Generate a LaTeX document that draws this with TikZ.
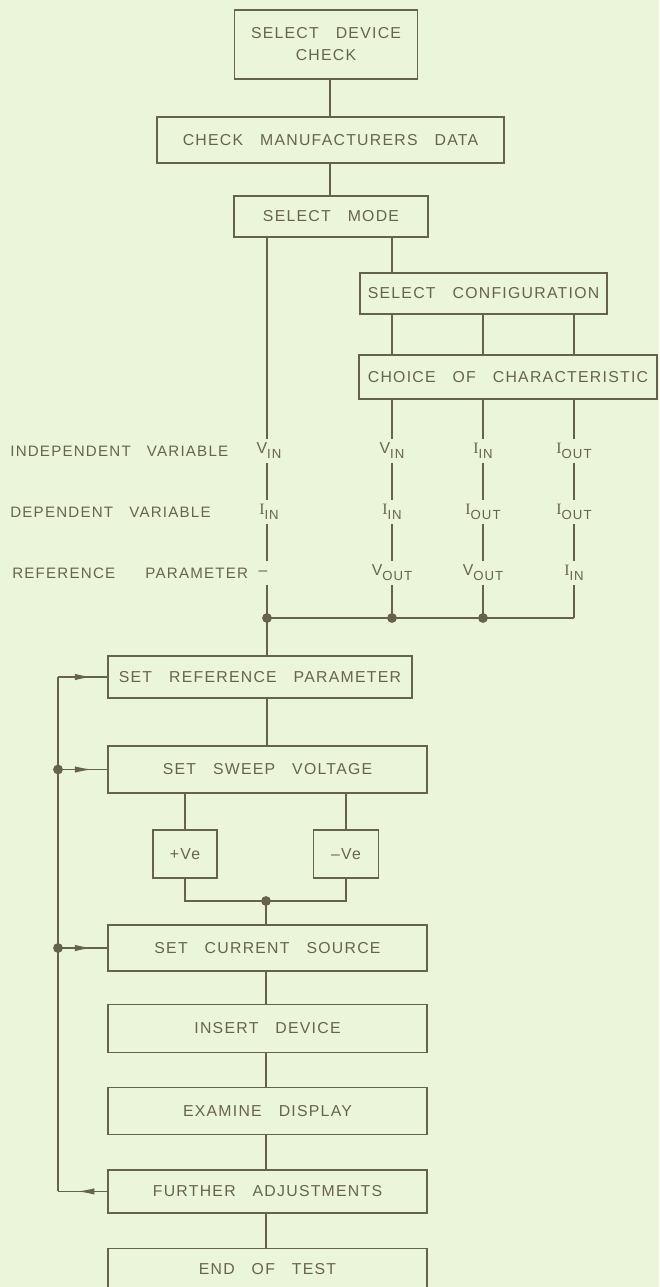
\documentclass[tikz,border=0pt]{standalone}
\usepackage{fontspec}
\setmainfont{Liberation Sans}[LetterSpace=8,WordSpace=3]
\newfontfamily\serifface{Liberation Serif}
\usepackage{tikz}
\usetikzlibrary{positioning,arrows.meta,decorations.markings}
\definecolor{plateGreen}{HTML}{EBF5DA}
\definecolor{inkBrown}{HTML}{67624C}
\definecolor{textBrown}{HTML}{68634F}
\newcommand{\capI}{{\serifface I}}
\newcommand{\lowsub}[1]{\raisebox{-0.6ex}{\fontsize{7.5}{8}\selectfont #1}}
\tikzset{
  block/.style={draw=inkBrown, line width=0.75pt, text=textBrown, inner sep=0pt, align=center, minimum width=6.38cm, minimum height=0.94cm},
  blockSmall/.style={block, minimum width=1.3cm, minimum height=0.96cm},
  varLabel/.style={text=textBrown, inner sep=0pt, minimum height=0.46cm, minimum width=0.5cm},
  rowLabel/.style={text=textBrown, inner sep=0pt, anchor=west, font=\fontsize{8.6}{10}\selectfont},
  wire/.style={draw=inkBrown, line width=0.9pt},
  flowRight/.style={wire, postaction={decorate}, decoration={markings, mark=at position 0.7 with {\arrow[inkBrown]{Latex[length=10pt,width=3.6pt]}}}},
  flowLeft/.style={wire, postaction={decorate}, decoration={markings, mark=at position 0.62 with {\arrow[inkBrown]{Latex[length=10pt,width=3.6pt]}}}}
}

\begin{document}
\begin{tikzpicture}[x=0.02cm, y=-0.02cm, font=\fontsize{9}{12.5}\selectfont]
  \useasboundingbox[fill=plateGreen] (0,0) rectangle (659,1287);
  % upper chain
  \node[block, minimum width=3.66cm, minimum height=1.38cm] (dev) at (326,44.5) {SELECT DEVICE\\CHECK};
  \node[block, minimum width=6.94cm, minimum height=0.92cm] (data) at (330.5,140) {CHECK MANUFACTURERS DATA};
  \node[block, minimum width=3.88cm, minimum height=0.82cm] (mode) at (331,216.5) {SELECT MODE};
  \node[block, minimum width=4.94cm, minimum height=0.82cm] (config) at (483.5,293.5) {SELECT CONFIGURATION};
  \node[block, minimum width=5.96cm, minimum height=0.88cm] (choice) at (508,377) {CHOICE OF CHARACTERISTIC};
  \coordinate (topx) at (330,0);
  \draw[wire] (dev.south -| topx) -- (data.north -| topx);
  \draw[wire] (data.south -| topx) -- (mode.north -| topx);

  % variable table
  \node[rowLabel] (lblInd) at (10,451) {INDEPENDENT VARIABLE};
  \node[rowLabel] (lblDep) at (10,512) {DEPENDENT VARIABLE};
  \node[rowLabel] (lblRef) at (12,573) {REFERENCE\hspace{8pt} PARAMETER};
  \node[varLabel] (vL1) at (269,451) {V\lowsub{IN}};
  \node[varLabel] (vL2) at (269,512) {\capI\lowsub{IN}};
  \node[varLabel] (vL3) at (263,573) {--};
  \node[varLabel] (v11) at (392,451) {V\lowsub{IN}};
  \node[varLabel] (v12) at (392,512) {\capI\lowsub{IN}};
  \node[varLabel] (v13) at (392,573) {V\lowsub{OUT}};
  \node[varLabel] (v21) at (483,451) {\capI\lowsub{IN}};
  \node[varLabel] (v22) at (483,512) {\capI\lowsub{OUT}};
  \node[varLabel] (v23) at (483,573) {V\lowsub{OUT}};
  \node[varLabel] (v31) at (574,451) {\capI\lowsub{OUT}};
  \node[varLabel] (v32) at (574,512) {\capI\lowsub{OUT}};
  \node[varLabel] (v33) at (574,573) {\capI\lowsub{IN}};
  \coordinate (busL) at (267,618);
  \coordinate (b1) at (392,618);
  \coordinate (b2) at (483,618);
  \coordinate (b3) at (574,618);

  \draw[wire] (mode.south -| v11) -- (config.north -| v11);
  \draw[wire] (mode.south -| busL) -- (vL1.north -| busL);
  \draw[wire] (vL1.south -| busL) -- (vL2.north -| busL);
  \draw[wire] (vL2.south -| busL) -- (vL3.north -| busL);
  \draw[wire] (vL3.south -| busL) -- (busL);
  \foreach \c in {1,2,3} {
    \draw[wire] (config.south -| v\c1) -- (choice.north -| v\c1);
    \draw[wire] (choice.south -| v\c1) -- (v\c1) -- (v\c2) -- (v\c3) -- (b\c);
  }
  \draw[wire] (busL) -- (b1) -- (b2) -- (b3);
  \foreach \p in {busL,b1,b2} \fill[inkBrown] (\p) circle (2.8pt);

  % lower chain
  \node[block, minimum width=6.08cm, minimum height=0.84cm] (ref) at (260,677) {SET REFERENCE PARAMETER};
  \node[block] (sweep) at (267.5,769.5) {SET SWEEP VOLTAGE};
  \node[blockSmall, minimum width=1.28cm] (plus) at (185,854) {+Ve};
  \node[blockSmall] (minus) at (346,854) {--Ve};
  \coordinate (join) at (266,901);
  \node[block, minimum height=0.92cm] (current) at (267.5,948) {SET CURRENT SOURCE};
  \node[block, minimum height=0.96cm, below=0.64cm of current] (insert) {INSERT DEVICE};
  \node[block, below=0.68cm of insert] (examine) {EXAMINE DISPLAY};
  \node[block, minimum height=0.86cm, below=0.68cm of examine] (further) {FURTHER ADJUSTMENTS};
  \node[block, minimum height=0.82cm, below=0.68cm of further] (endt) {END OF TEST};

  \draw[wire] (busL) -- (busL |- ref.north);
  \draw[wire] (ref.south -| busL) -- (sweep.north -| busL);
  \draw[wire] (sweep.south -| plus) -- (plus);
  \draw[wire] (sweep.south -| minus) -- (minus);
  \draw[wire] (plus) -- (plus |- join) -- (minus |- join) -- (minus);
  \fill[inkBrown] (join) circle (2.8pt);
  \draw[wire] (join) -- (join |- current.north);
  \draw[wire] (current.south -| join) -- (insert.north -| join);
  \draw[wire] (insert.south -| join) -- (examine.north -| join);
  \draw[wire] (examine.south -| join) -- (further.north -| join);
  \draw[wire] (further.south -| join) -- (endt.north -| join);

  % adjustment loop
  \coordinate (fbx) at (58,0);
  \draw[flowLeft] (further.west) -- (further.west -| fbx);
  \draw[wire] (further.west -| fbx) -- (ref.west -| fbx);
  \draw[flowRight] (ref.west -| fbx) -- (ref.west);
  \draw[flowRight] (sweep.west -| fbx) -- (sweep.west);
  \draw[flowRight] (current.west -| fbx) -- (current.west);
  \fill[inkBrown] (sweep.west -| fbx) circle (2.8pt);
  \fill[inkBrown] (current.west -| fbx) circle (2.8pt);
\end{tikzpicture}
\end{document}
